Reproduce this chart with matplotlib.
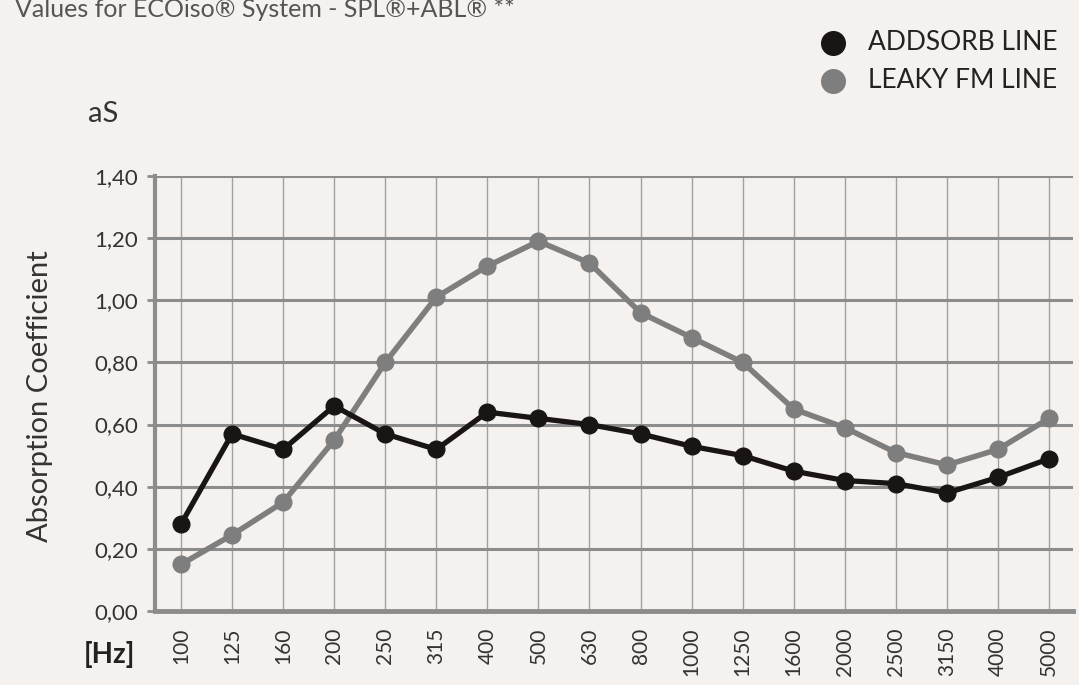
import numpy as np
import matplotlib
matplotlib.use("Agg")
import matplotlib.pyplot as plt

plt.rcParams['font.family'] = ['Lato', 'DejaVu Sans']

freqs = ['100', '125', '160', '200', '250', '315', '400', '500', '630', '800',
         '1000', '1250', '1600', '2000', '2500', '3150', '4000', '5000']
addsorb = [0.28, 0.57, 0.52, 0.66, 0.57, 0.52, 0.64, 0.62, 0.60, 0.57,
           0.53, 0.50, 0.45, 0.42, 0.41, 0.38, 0.43, 0.49]
leaky = [0.15, 0.245, 0.35, 0.55, 0.80, 1.01, 1.11, 1.19, 1.12, 0.96,
         0.88, 0.80, 0.65, 0.59, 0.51, 0.47, 0.52, 0.62]
yticks = [0.0, 0.2, 0.4, 0.6, 0.8, 1.0, 1.2, 1.4]
ylabels = ['0,00', '0,20', '0,40', '0,60', '0,80', '1,00', '1,20', '1,40']

bg = '#f5f1ee'
grid_c = '#8c8c8c'
black = '#1a1515'
gray = '#7e7e7e'

fig = plt.figure(figsize=(10.79, 6.85), dpi=100, facecolor=bg)
ax = fig.add_axes([155/1079, 74/685, (1073-155)/1079, (611-176)/685])
ax.set_facecolor(bg)

x = np.arange(len(freqs))
ax.plot(x, leaky, color=gray, lw=4, marker='o', ms=12, zorder=3)
ax.plot(x, addsorb, color=black, lw=3.8, marker='o', ms=12, zorder=4)

ax.set_xlim(-0.51, 17.47)
ax.set_ylim(0, 1.40)
for v in x:
    ax.axvline(v, color='#a0a0a0', lw=1.0, zorder=1)
for v in yticks[1:]:
    ax.axhline(v, color=grid_c, lw=2.2, zorder=1)

ax.set_yticks(yticks)
ax.set_yticklabels(ylabels, fontsize=16, color='#333333')
ax.set_xticks(x)
ax.set_xticklabels(freqs, rotation=90, fontsize=15, color='#333333')
ax.tick_params(axis='y', length=6, width=2, color=grid_c, pad=6)
ax.tick_params(axis='x', length=0, pad=12)

for s in ['top', 'right']:
    ax.spines[s].set_visible(False)
ax.spines['left'].set_color(grid_c)
ax.spines['left'].set_linewidth(3)
ax.spines['bottom'].set_color(grid_c)
ax.spines['bottom'].set_linewidth(3.5)

fig.text(15/1079, 1 - 17/685, 'Values for ECOiso\u00ae System - SPL\u00ae+ABL\u00ae **',
         fontsize=18, color='#555555', va='baseline')
fig.text(88/1079, 1 - 114/685, 'aS', fontsize=21, color='#333333', va='center')
fig.text(40/1079, 1 - 396/685, 'Absorption Coefficient', fontsize=21,
         color='#333333', rotation=90, ha='center', va='center')
fig.text(84/1079, 1 - 655/685, '[Hz]', fontsize=20, fontweight='bold',
         color='#222222', va='center')

# legend
for yy, c, lab in [(43, black, 'ADDSORB LINE'), (81, gray, 'LEAKY FM LINE')]:
    fig.lines.append(plt.Line2D([833/1079], [1 - yy/685], marker='o', ms=17,
                                color=c, transform=fig.transFigure))
    fig.text(868/1079, 1 - yy/685, lab, fontsize=19, color='#222222',
             va='center', fontstretch='condensed')

fig.savefig('out.png', dpi=100, facecolor=bg)
